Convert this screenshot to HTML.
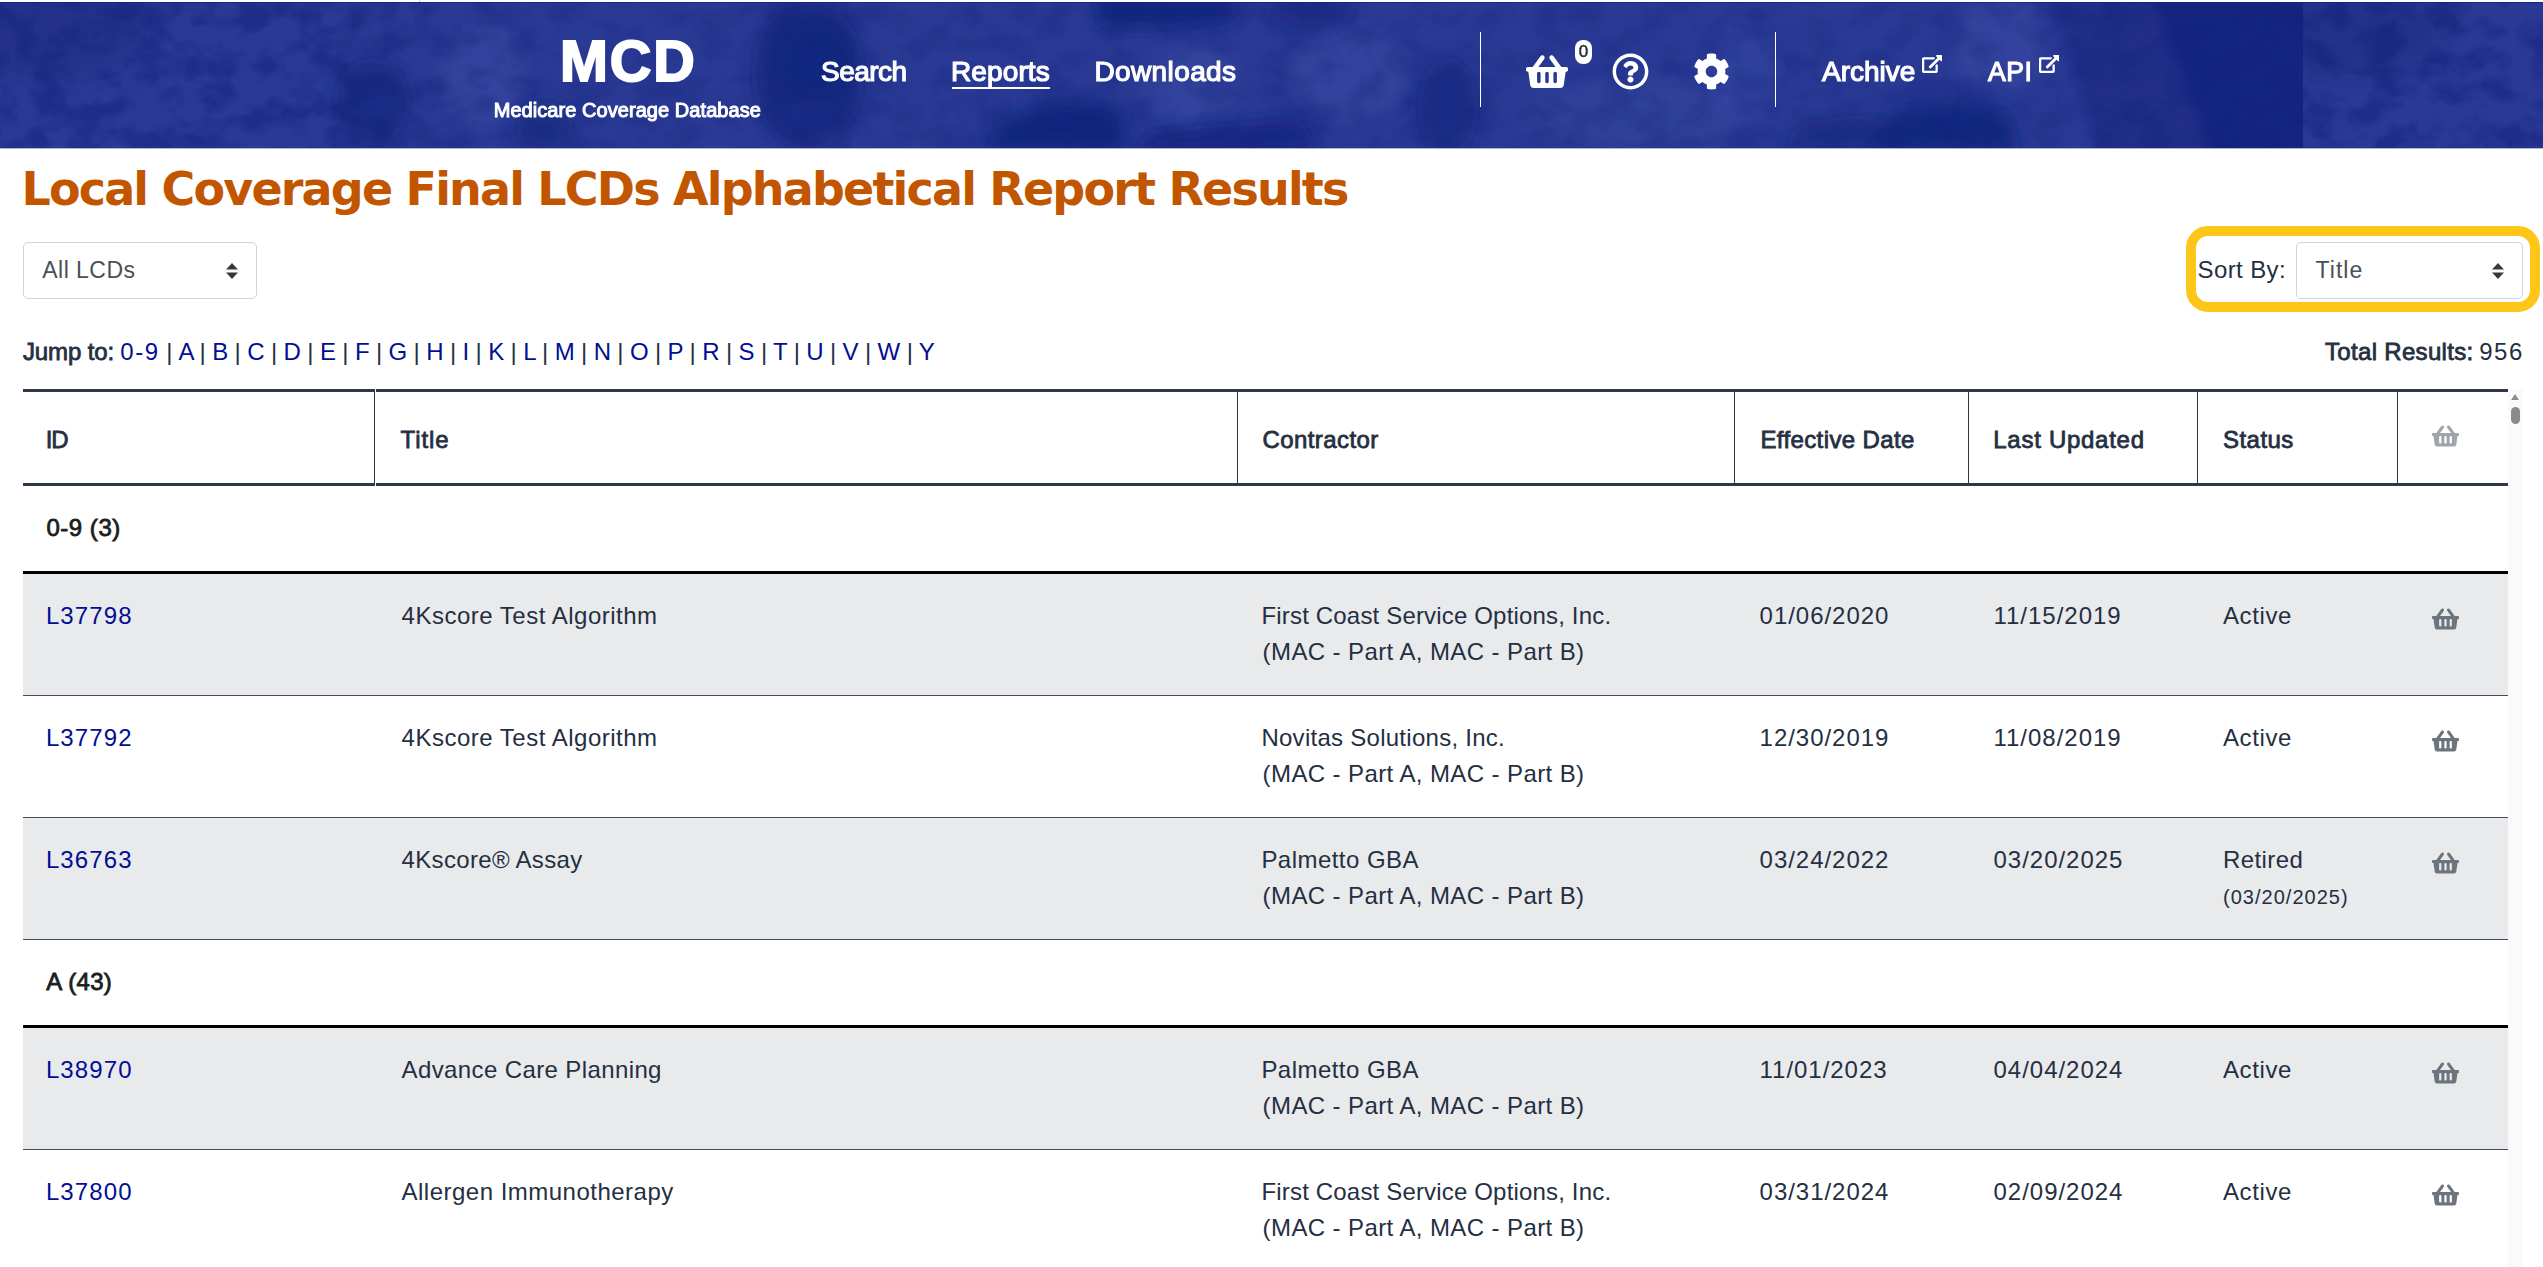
<!DOCTYPE html>
<html lang="en">
<head>
<meta charset="utf-8">
<title>Local Coverage Final LCDs Alphabetical Report Results</title>
<style>
*{box-sizing:border-box;}
html,body{margin:0;padding:0;background:#fff;}
body{width:2543px;height:1267px;overflow:hidden;position:relative;font-family:"Liberation Sans",sans-serif;font-size:24px;line-height:36px;color:#252f42;}
a{color:#020e94;text-decoration:none;}
.abs{position:absolute;white-space:nowrap;line-height:1;}
/* ---------- header ---------- */
header{position:absolute;left:0;top:2px;width:2543px;height:146px;overflow:hidden;background-color:#28388f;}
header .bg{position:absolute;left:0;top:0;width:2543px;height:146px;}
header .w{color:#fff;font-weight:bold;}
#logo{left:558px;top:30.6px;font-size:57.5px;font-weight:bold;color:#fff;-webkit-text-stroke:2px #fff;}
#sub{left:493.5px;top:98.4px;font-size:20px;font-weight:normal;-webkit-text-stroke:1px #fff;color:#fff;}
.nav{font-size:28px;font-weight:normal;-webkit-text-stroke:1.2px #fff;color:#fff;top:56px;}
#n1{left:821px;}
#n2{left:951.5px;}
#n3{left:1095px;}
#n4{left:1821px;}
#n5{left:1987px;transform:scaleX(.95);transform-origin:0 50%;}
#uline{position:absolute;left:952px;top:84.5px;width:98px;height:2.5px;background:#fff;}
.vsep{position:absolute;top:30px;width:1px;height:75px;background:#fff;}
.ico{position:absolute;display:block;}
#badge{position:absolute;left:1575px;top:38px;width:17px;height:24px;border-radius:8px;background:#fff;color:#252f42;font-size:17px;font-weight:normal;-webkit-text-stroke:.5px;line-height:23px;text-align:center;}
/* ---------- controls ---------- */
h1{position:absolute;margin:0;left:22px;top:166.2px;font-family:"DejaVu Sans","Liberation Sans",sans-serif;font-size:46px;line-height:1;font-weight:bold;color:#c25600;white-space:nowrap;}
.sel{position:absolute;height:57px;border:1px solid #ced4da;border-radius:5px;background:#fff;color:#495057;font-size:23px;line-height:55px;padding-left:18px;white-space:nowrap;}
.sel svg{position:absolute;right:18px;top:20px;}
#sel1{left:23px;top:242px;width:234px;}
#hl{position:absolute;left:2186px;top:226px;width:354px;height:86px;border:10px solid #ffc61a;border-radius:22px;}
#sortlbl{left:2197px;top:258px;font-size:24px;color:#252f42;}
#sel2{left:2296px;top:242px;width:227px;}
#jump{left:22px;top:339.5px;font-size:24px;}
#jump b,#total b{font-weight:normal;-webkit-text-stroke:.8px;}
#total{left:2318px;top:340px;font-size:24px;}
/* ---------- table ---------- */
#tbl{position:absolute;left:23px;top:389px;width:2485px;border-collapse:separate;border-spacing:0;table-layout:fixed;}
#tbl th{height:97px;border-top:3px solid #2e3849;border-bottom:3px solid #2e3849;border-left:1px solid #2e3849;text-align:left;font-weight:normal;-webkit-text-stroke:.8px;padding:4px 0 0 24px;vertical-align:middle;white-space:nowrap;}
#tbl th:first-child{border-left:0;padding-left:23px;}
#tbl td{height:122px;padding:24px 0 0 24px;vertical-align:top;border-bottom:1px solid #444c5b;white-space:nowrap;}
#tbl td:first-child{padding-left:24px;}
#tbl tr.g td{height:88px;border-bottom:3px solid #000;padding:0 0 2px 23px;vertical-align:middle;font-weight:normal;-webkit-text-stroke:.8px;color:#1a1d21;}
#tbl tr.odd td{background:#e9eaec;}
#tbl td.bk{padding:33px 0 0 35px;line-height:0;}
#tbl th.bk{padding:0 0 3px 34px;line-height:0;}
small{font-size:20px;}
/* ---------- scrollbar ---------- */
#sb{position:absolute;left:2508px;top:389px;width:15px;height:878px;background:#fafafa;}
#sb i{position:absolute;left:3px;top:18px;width:9px;height:17px;border-radius:5px;background:#8b8b8b;}
#sb b{position:absolute;left:3px;top:5px;width:0;height:0;border-left:4.5px solid transparent;border-right:4.5px solid transparent;border-bottom:6.5px solid #8b8b8b;}
/*TUNE-BEGIN*/
#logo{letter-spacing:1.90px;margin-left:2.0px;}
#sub{letter-spacing:0.06px;margin-left:0.2px;}
#n1{letter-spacing:-0.52px;margin-left:0.0px;}
#n2{letter-spacing:0.12px;margin-left:-0.5px;}
#n3{letter-spacing:0.39px;margin-left:-0.6px;}
#n4{letter-spacing:0.00px;margin-left:1.0px;}
#n5{letter-spacing:0.50px;margin-left:1.0px;}
#h1{letter-spacing:-1.82px;margin-left:-0.6px;}
#s1t{letter-spacing:0.46px;margin-left:0.3px;}
#sortlbl{letter-spacing:0.38px;margin-left:0.6px;}
#s2t{letter-spacing:1.05px;margin-left:0.5px;}
#jb{letter-spacing:-0.14px;margin-left:1.0px;}
#j0{letter-spacing:1.50px;margin-left:-0.3px;}
#jl{word-spacing:-0.30px;margin-left:-0.5px;}
#tb{letter-spacing:0.32px;margin-left:7.0px;}
#tn{letter-spacing:1.50px;margin-left:-1.0px;}
#hA{letter-spacing:-1.00px;margin-left:-0.3px;}
#hB{letter-spacing:0.88px;margin-left:1.6px;}
#hC{letter-spacing:0.43px;margin-left:0.4px;}
#hD{letter-spacing:0.39px;margin-left:1.4px;}
#hE{letter-spacing:0.72px;margin-left:0.3px;}
#hF{letter-spacing:0.46px;margin-left:1.0px;}
#g1{letter-spacing:0.53px;margin-left:0.4px;}
#g2{letter-spacing:0.32px;margin-left:0.2px;}
#r1a{letter-spacing:1.12px;margin-left:-1.1px;}
#r1d{letter-spacing:0.40px;margin-left:1.6px;}
#r1e{letter-spacing:0.96px;margin-left:1.6px;}
#r1f{letter-spacing:0.98px;margin-left:1.5px;}
#r1g{letter-spacing:0.60px;margin-left:2.0px;}
#r2a{letter-spacing:1.12px;margin-left:-1.1px;}
#r2d{letter-spacing:0.40px;margin-left:1.6px;}
#r2e{letter-spacing:0.96px;margin-left:1.6px;}
#r2f{letter-spacing:0.98px;margin-left:1.5px;}
#r2g{letter-spacing:0.60px;margin-left:2.0px;}
#r3a{letter-spacing:1.12px;margin-left:-1.1px;}
#r3d{letter-spacing:0.40px;margin-left:1.6px;}
#r3e{letter-spacing:0.96px;margin-left:1.6px;}
#r3f{letter-spacing:0.98px;margin-left:1.5px;}
#r3g{letter-spacing:0.40px;margin-left:2.0px;}
#r4a{letter-spacing:1.12px;margin-left:-1.1px;}
#r4d{letter-spacing:0.40px;margin-left:1.6px;}
#r4e{letter-spacing:0.96px;margin-left:1.6px;}
#r4f{letter-spacing:0.98px;margin-left:1.5px;}
#r4g{letter-spacing:0.60px;margin-left:2.0px;}
#r5a{letter-spacing:1.12px;margin-left:-1.1px;}
#r5d{letter-spacing:0.40px;margin-left:1.6px;}
#r5e{letter-spacing:0.96px;margin-left:1.6px;}
#r5f{letter-spacing:0.98px;margin-left:1.5px;}
#r5g{letter-spacing:0.60px;margin-left:2.0px;}
#r1b{letter-spacing:0.50px;margin-left:3.6px;}
#r2b{letter-spacing:0.50px;margin-left:3.6px;}
#r3b{letter-spacing:0.32px;margin-left:3.6px;}
#r4b{letter-spacing:0.39px;margin-left:3.5px;}
#r5b{letter-spacing:0.49px;margin-left:3.5px;}
#r1c{letter-spacing:0.17px;margin-left:0.5px;}
#r2c{letter-spacing:0.27px;margin-left:0.4px;}
#r3c{letter-spacing:0.46px;margin-left:0.4px;}
#r4c{letter-spacing:0.46px;margin-left:0.4px;}
#r5c{letter-spacing:0.17px;margin-left:0.5px;}
#r3h{letter-spacing:1.02px;margin-left:2.0px;}
/*TUNE-END*/
</style>
</head>
<body>
<div style="position:absolute;left:419px;top:0;width:1px;height:2px;background:#d0d0d0"></div>
<div style="position:absolute;left:0;top:148px;width:2543px;height:1px;background:rgba(42,58,148,.38)"></div>
<header>
  <svg class="bg" width="2543" height="146" viewBox="0 0 2543 146" preserveAspectRatio="none">
<defs>
<filter id="bl" x="-20%" y="-50%" width="140%" height="200%"><feGaussianBlur stdDeviation="8"/></filter>
<filter id="bl2" x="-20%" y="-50%" width="140%" height="200%"><feGaussianBlur stdDeviation="4"/></filter>
<filter id="nz" x="0" y="0" width="100%" height="100%" color-interpolation-filters="sRGB"><feTurbulence type="fractalNoise" baseFrequency="0.03 0.04" numOctaves="3" seed="7" result="n"/><feColorMatrix in="n" type="matrix" values="0 0 0 0 0.07  0 0 0 0 0.13  0 0 0 0 0.48  0 0 0 -3.2 1.9"/></filter>
<linearGradient id="mg" x1="0" x2="2543" y1="0" y2="0" gradientUnits="userSpaceOnUse"><stop offset="0" stop-color="#fff"/><stop offset=".13" stop-color="#fff"/><stop offset=".2" stop-color="#777"/><stop offset=".8" stop-color="#777"/><stop offset=".9" stop-color="#999"/><stop offset=".9056" stop-color="#fff"/><stop offset="1" stop-color="#fff"/></linearGradient>
<mask id="mk" maskUnits="userSpaceOnUse" x="0" y="0" width="2543" height="146"><rect width="2543" height="146" fill="url(#mg)"/></mask>
<clipPath id="cl"><rect x="0" y="0" width="2303" height="146"/></clipPath>
<clipPath id="cr"><rect x="2303" y="0" width="240" height="146"/></clipPath>
</defs>
<rect width="2543" height="146" fill="#2a3a94"/>
<g clip-path="url(#cl)">
<g filter="url(#bl)" fill="#13237c">
<ellipse cx="50" cy="28" rx="95" ry="48" opacity=".4"/>
<ellipse cx="372" cy="100" rx="38" ry="44" opacity=".65"/>
<ellipse cx="545" cy="125" rx="28" ry="26" opacity=".6"/>
<ellipse cx="808" cy="72" rx="56" ry="76" opacity=".7"/>
<ellipse cx="816" cy="58" rx="40" ry="36" opacity=".5"/>
<polygon points="985,150 1000,118 1060,98 1120,104 1128,150" opacity=".9"/>
<polygon points="1092,-6 1238,-6 1232,18 1170,26 1100,24" opacity=".9"/>
<polygon points="1130,150 1150,128 1300,116 1320,150" opacity=".75"/>
<ellipse cx="1310" cy="6" rx="40" ry="22" opacity=".55"/>
<ellipse cx="1448" cy="105" rx="30" ry="50" opacity=".65"/>
<polygon points="1780,150 1800,120 1870,112 1900,150" opacity=".6"/>
<polygon points="1872,150 1890,108 1960,96 2010,110 2020,150" opacity=".85"/>
</g>
<g filter="url(#bl)" fill="#4456b0">
<ellipse cx="482" cy="72" rx="40" ry="52" opacity=".3"/>
<ellipse cx="1192" cy="82" rx="46" ry="42" opacity=".32"/>
<ellipse cx="1350" cy="72" rx="58" ry="44" opacity=".3"/>
<ellipse cx="1640" cy="112" rx="120" ry="34" opacity=".2"/>
<ellipse cx="1740" cy="70" rx="34" ry="44" opacity=".22"/>
<ellipse cx="2000" cy="45" rx="46" ry="50" opacity=".3"/>
</g>
<g filter="url(#bl2)" fill="#13237c">
<polygon points="2050,-10 2320,-10 2320,160 2100,160" opacity=".5"/>
<polygon points="2150,-10 2320,-10 2320,160 2215,160" opacity=".6"/>
</g>
</g>
<g clip-path="url(#cr)">
<g filter="url(#bl)" fill="#13237c"><ellipse cx="2353" cy="28" rx="95" ry="48" opacity=".4"/></g>
</g>
<g mask="url(#mk)"><rect x="0" y="0" width="2543" height="146" filter="url(#nz)" opacity=".5"/></g>
<rect x="0" y="0" width="2543" height="1" fill="#14247d" opacity=".8"/>
</svg>
  <div id="logo" class="abs t">MCD</div>
  <div id="sub" class="abs t">Medicare Coverage Database</div>
  <nav>
    <a id="n1" class="abs nav t">Search</a>
    <a id="n2" class="abs nav t">Reports</a>
    <div id="uline"></div>
    <a id="n3" class="abs nav t">Downloads</a>
    <div class="vsep" style="left:1480px"></div>
    <svg class="ico" style="left:1526px;top:51px" width="42" height="37.33" viewBox="0 0 576 512"><path fill="#fff" d="M576 216v16c0 13.255-10.745 24-24 24h-8l-26.113 182.788C514.509 462.435 494.257 480 470.37 480H105.63c-23.887 0-44.139-17.565-47.518-41.212L32 256h-8c-13.255 0-24-10.745-24-24v-16c0-13.255 10.745-24 24-24h67.341l106.78-146.821c10.395-14.292 30.407-17.453 44.701-7.058 14.293 10.395 17.453 30.408 7.058 44.701L170.477 192h235.046L326.12 82.821c-10.395-14.292-7.234-34.306 7.059-44.701 14.291-10.395 34.306-7.235 44.701 7.058L484.659 192H552c13.255 0 24 10.745 24 24zM312 392V280c0-13.255-10.745-24-24-24s-24 10.745-24 24v112c0 13.255 10.745 24 24 24s24-10.745 24-24zm112 0V280c0-13.255-10.745-24-24-24s-24 10.745-24 24v112c0 13.255 10.745 24 24 24s24-10.745 24-24zm-224 0V280c0-13.255-10.745-24-24-24s-24 10.745-24 24v112c0 13.255 10.745 24 24 24s24-10.745 24-24z"/></svg>
    <div id="badge">0</div>
    <svg class="ico" style="left:1612px;top:51px" width="37" height="37" viewBox="0 0 512 512"><path fill="#fff" d="M256 8C119.043 8 8 119.083 8 256c0 136.997 111.043 248 248 248s248-111.003 248-248C504 119.083 392.957 8 256 8zm0 448c-110.532 0-200-89.431-200-200 0-110.495 89.472-200 200-200 110.491 0 200 89.471 200 200 0 110.530-89.431 200-200 200zm107.244-255.200c0 67.052-72.421 68.084-72.421 92.863V300c0 6.627-5.373 12-12 12h-45.647c-6.627 0-12-5.373-12-12v-8.659c0-35.745 27.100-50.034 47.579-61.516 17.561-9.845 28.324-16.541 28.324-29.579 0-17.246-21.999-28.693-39.784-28.693-23.189 0-33.894 10.977-48.942 29.969-4.057 5.120-11.460 6.071-16.666 2.124l-27.824-21.098c-5.107-3.872-6.251-11.066-2.644-16.363C184.846 131.491 214.940 112 261.794 112c49.071 0 101.450 38.304 101.450 88.800zM298 368c0 23.159-18.841 42-42 42s-42-18.841-42-42 18.841-42 42-42 42 18.841 42 42z"/></svg>
    <svg class="ico" style="left:1693px;top:51px" width="37" height="37" viewBox="0 0 512 512"><path fill="#fff" d="M487.4 315.7l-42.6-24.6c4.3-23.2 4.3-47 0-70.200l42.600-24.600c4.900-2.800 7.100-8.600 5.500-14-11.100-35.600-30-67.800-54.700-94.600-3.800-4.100-10-5.100-14.800-2.300L380.800 110c-17.900-15.400-38.500-27.300-60.800-35.100V25.800c0-5.600-3.900-10.500-9.400-11.700-36.700-8.200-74.300-7.800-109.200 0-5.500 1.200-9.400 6.100-9.400 11.700V75c-22.200 7.900-42.800 19.800-60.800 35.100L88.700 85.500c-4.900-2.800-11-1.900-14.800 2.300-24.700 26.700-43.600 58.900-54.700 94.600-1.700 5.400.6 11.200 5.500 14L67.300 221c-4.300 23.200-4.300 47 0 70.200l-42.600 24.600c-4.900 2.800-7.100 8.600-5.500 14 11.100 35.600 30 67.800 54.700 94.600 3.800 4.100 10 5.100 14.800 2.300l42.600-24.600c17.900 15.400 38.500 27.300 60.800 35.100v49.200c0 5.600 3.900 10.500 9.400 11.700 36.700 8.200 74.300 7.800 109.200 0 5.500-1.200 9.400-6.100 9.400-11.700v-49.200c22.200-7.900 42.800-19.800 60.800-35.100l42.600 24.600c4.900 2.800 11 1.900 14.800-2.300 24.700-26.700 43.600-58.900 54.700-94.600 1.500-5.500-.7-11.300-5.600-14.100zM256 336c-44.100 0-80-35.900-80-80s35.900-80 80-80 80 35.900 80 80-35.900 80-80 80z"/></svg>
    <div class="vsep" style="left:1775px"></div>
    <a id="n4" class="abs nav t">Archive</a>
    <svg class="ico" style="left:1922px;top:52.5px" width="20.25" height="18" viewBox="0 0 576 512"><path fill="#fff" d="M576 24v127.984c0 21.461-25.960 31.980-40.971 16.971l-35.707-35.709-243.523 243.523c-9.373 9.373-24.568 9.373-33.941 0l-22.627-22.627c-9.373-9.373-9.373-24.569 0-33.941L442.756 76.676l-35.703-35.705C391.982 25.900 402.656 0 424.024 0H552c13.255 0 24 10.745 24 24zM407.029 270.794l-16 16A23.999 23.999 0 0 0 384 303.765V448H64V128h264a24.003 24.003 0 0 0 16.970-7.029l16-16C376.089 89.851 365.381 64 344 64H48C21.490 64 0 85.490 0 112v352c0 26.510 21.490 48 48 48h352c26.510 0 48-21.490 48-48V287.764c0-21.382-25.852-32.090-40.971-16.970z"/></svg>
    <a id="n5" class="abs nav t">API</a>
    <svg class="ico" style="left:2039px;top:52.5px" width="20.25" height="18" viewBox="0 0 576 512"><path fill="#fff" d="M576 24v127.984c0 21.461-25.960 31.980-40.971 16.971l-35.707-35.709-243.523 243.523c-9.373 9.373-24.568 9.373-33.941 0l-22.627-22.627c-9.373-9.373-9.373-24.569 0-33.941L442.756 76.676l-35.703-35.705C391.982 25.900 402.656 0 424.024 0H552c13.255 0 24 10.745 24 24zM407.029 270.794l-16 16A23.999 23.999 0 0 0 384 303.765V448H64V128h264a24.003 24.003 0 0 0 16.970-7.029l16-16C376.089 89.851 365.381 64 344 64H48C21.490 64 0 85.490 0 112v352c0 26.510 21.490 48 48 48h352c26.510 0 48-21.490 48-48V287.764c0-21.382-25.852-32.090-40.971-16.970z"/></svg>
  </nav>
</header>

<main>
<h1 id="h1" class="t">Local Coverage Final LCDs Alphabetical Report Results</h1>

<div id="sel1" class="sel"><span id="s1t" class="t">All LCDs</span><svg width="12" height="16" viewBox="0 0 12 16"><path fill="#343a40" d="M6 0l6 6.5H0zM6 16l-6-6.500h12z"/></svg></div>

<div id="hl"></div>
<div id="sortlbl" class="abs t">Sort By:</div>
<div id="sel2" class="sel"><span id="s2t" class="t">Title</span><svg width="12" height="16" viewBox="0 0 12 16"><path fill="#343a40" d="M6 0l6 6.5H0zM6 16l-6-6.500h12z"/></svg></div>

<div id="jump" class="abs"><b id="jb" class="t">Jump to:</b> <a id="j0" class="t">0-9</a> | <span id="jl" class="t"><a>A</a> | <a>B</a> | <a>C</a> | <a>D</a> | <a>E</a> | <a>F</a> | <a>G</a> | <a>H</a> | <a>I</a> | <a>K</a> | <a>L</a> | <a>M</a> | <a>N</a> | <a>O</a> | <a>P</a> | <a>R</a> | <a>S</a> | <a>T</a> | <a>U</a> | <a>V</a> | <a>W</a> | <a>Y</a></span></div>
<div id="total" class="abs"><b id="tb" class="t">Total Results:</b> <span id="tn" class="t">956</span></div>

<table id="tbl">
<colgroup><col style="width:351px"><col style="width:863px"><col style="width:497px"><col style="width:234px"><col style="width:229px"><col style="width:200px"><col style="width:111px"></colgroup>
<thead>
<tr><th><span id="hA" class="t">ID</span></th><th><span id="hB" class="t">Title</span></th><th><span id="hC" class="t">Contractor</span></th><th><span id="hD" class="t">Effective Date</span></th><th><span id="hE" class="t">Last Updated</span></th><th><span id="hF" class="t">Status</span></th><th class="bk"><svg width="27" height="24" viewBox="0 0 576 512"><path fill="#9fa5ab" d="M576 216v16c0 13.255-10.745 24-24 24h-8l-26.113 182.788C514.509 462.435 494.257 480 470.37 480H105.63c-23.887 0-44.139-17.565-47.518-41.212L32 256h-8c-13.255 0-24-10.745-24-24v-16c0-13.255 10.745-24 24-24h67.341l106.78-146.821c10.395-14.292 30.407-17.453 44.701-7.058 14.293 10.395 17.453 30.408 7.058 44.701L170.477 192h235.046L326.12 82.821c-10.395-14.292-7.234-34.306 7.059-44.701 14.291-10.395 34.306-7.235 44.701 7.058L484.659 192H552c13.255 0 24 10.745 24 24zM312 392V280c0-13.255-10.745-24-24-24s-24 10.745-24 24v112c0 13.255 10.745 24 24 24s24-10.745 24-24zm112 0V280c0-13.255-10.745-24-24-24s-24 10.745-24 24v112c0 13.255 10.745 24 24 24s24-10.745 24-24zm-224 0V280c0-13.255-10.745-24-24-24s-24 10.745-24 24v112c0 13.255 10.745 24 24 24s24-10.745 24-24z"/></svg></th></tr>
</thead>
<tbody>
<tr class="g"><td colspan="7"><span id="g1" class="t">0-9 (3)</span></td></tr>
<tr class="odd"><td><a id="r1a" class="t">L37798</a></td><td><span id="r1b" class="t">4Kscore Test Algorithm</span></td><td><span id="r1c" class="t">First Coast Service Options, Inc.</span><br><span id="r1d" class="t">(MAC - Part A, MAC - Part B)</span></td><td><span id="r1e" class="t">01/06/2020</span></td><td><span id="r1f" class="t">11/15/2019</span></td><td><span id="r1g" class="t">Active</span></td><td class="bk"><svg width="27" height="24" viewBox="0 0 576 512"><path fill="#6c757d" d="M576 216v16c0 13.255-10.745 24-24 24h-8l-26.113 182.788C514.509 462.435 494.257 480 470.37 480H105.63c-23.887 0-44.139-17.565-47.518-41.212L32 256h-8c-13.255 0-24-10.745-24-24v-16c0-13.255 10.745-24 24-24h67.341l106.78-146.821c10.395-14.292 30.407-17.453 44.701-7.058 14.293 10.395 17.453 30.408 7.058 44.701L170.477 192h235.046L326.12 82.821c-10.395-14.292-7.234-34.306 7.059-44.701 14.291-10.395 34.306-7.235 44.701 7.058L484.659 192H552c13.255 0 24 10.745 24 24zM312 392V280c0-13.255-10.745-24-24-24s-24 10.745-24 24v112c0 13.255 10.745 24 24 24s24-10.745 24-24zm112 0V280c0-13.255-10.745-24-24-24s-24 10.745-24 24v112c0 13.255 10.745 24 24 24s24-10.745 24-24zm-224 0V280c0-13.255-10.745-24-24-24s-24 10.745-24 24v112c0 13.255 10.745 24 24 24s24-10.745 24-24z"/></svg></td></tr>
<tr><td><a id="r2a" class="t">L37792</a></td><td><span id="r2b" class="t">4Kscore Test Algorithm</span></td><td><span id="r2c" class="t">Novitas Solutions, Inc.</span><br><span id="r2d" class="t">(MAC - Part A, MAC - Part B)</span></td><td><span id="r2e" class="t">12/30/2019</span></td><td><span id="r2f" class="t">11/08/2019</span></td><td><span id="r2g" class="t">Active</span></td><td class="bk"><svg width="27" height="24" viewBox="0 0 576 512"><path fill="#6c757d" d="M576 216v16c0 13.255-10.745 24-24 24h-8l-26.113 182.788C514.509 462.435 494.257 480 470.37 480H105.63c-23.887 0-44.139-17.565-47.518-41.212L32 256h-8c-13.255 0-24-10.745-24-24v-16c0-13.255 10.745-24 24-24h67.341l106.78-146.821c10.395-14.292 30.407-17.453 44.701-7.058 14.293 10.395 17.453 30.408 7.058 44.701L170.477 192h235.046L326.12 82.821c-10.395-14.292-7.234-34.306 7.059-44.701 14.291-10.395 34.306-7.235 44.701 7.058L484.659 192H552c13.255 0 24 10.745 24 24zM312 392V280c0-13.255-10.745-24-24-24s-24 10.745-24 24v112c0 13.255 10.745 24 24 24s24-10.745 24-24zm112 0V280c0-13.255-10.745-24-24-24s-24 10.745-24 24v112c0 13.255 10.745 24 24 24s24-10.745 24-24zm-224 0V280c0-13.255-10.745-24-24-24s-24 10.745-24 24v112c0 13.255 10.745 24 24 24s24-10.745 24-24z"/></svg></td></tr>
<tr class="odd"><td><a id="r3a" class="t">L36763</a></td><td><span id="r3b" class="t">4Kscore® Assay</span></td><td><span id="r3c" class="t">Palmetto GBA</span><br><span id="r3d" class="t">(MAC - Part A, MAC - Part B)</span></td><td><span id="r3e" class="t">03/24/2022</span></td><td><span id="r3f" class="t">03/20/2025</span></td><td><span id="r3g" class="t">Retired</span><br><small id="r3h" class="t">(03/20/2025)</small></td><td class="bk"><svg width="27" height="24" viewBox="0 0 576 512"><path fill="#6c757d" d="M576 216v16c0 13.255-10.745 24-24 24h-8l-26.113 182.788C514.509 462.435 494.257 480 470.37 480H105.63c-23.887 0-44.139-17.565-47.518-41.212L32 256h-8c-13.255 0-24-10.745-24-24v-16c0-13.255 10.745-24 24-24h67.341l106.78-146.821c10.395-14.292 30.407-17.453 44.701-7.058 14.293 10.395 17.453 30.408 7.058 44.701L170.477 192h235.046L326.12 82.821c-10.395-14.292-7.234-34.306 7.059-44.701 14.291-10.395 34.306-7.235 44.701 7.058L484.659 192H552c13.255 0 24 10.745 24 24zM312 392V280c0-13.255-10.745-24-24-24s-24 10.745-24 24v112c0 13.255 10.745 24 24 24s24-10.745 24-24zm112 0V280c0-13.255-10.745-24-24-24s-24 10.745-24 24v112c0 13.255 10.745 24 24 24s24-10.745 24-24zm-224 0V280c0-13.255-10.745-24-24-24s-24 10.745-24 24v112c0 13.255 10.745 24 24 24s24-10.745 24-24z"/></svg></td></tr>
<tr class="g"><td colspan="7"><span id="g2" class="t">A (43)</span></td></tr>
<tr class="odd"><td><a id="r4a" class="t">L38970</a></td><td><span id="r4b" class="t">Advance Care Planning</span></td><td><span id="r4c" class="t">Palmetto GBA</span><br><span id="r4d" class="t">(MAC - Part A, MAC - Part B)</span></td><td><span id="r4e" class="t">11/01/2023</span></td><td><span id="r4f" class="t">04/04/2024</span></td><td><span id="r4g" class="t">Active</span></td><td class="bk"><svg width="27" height="24" viewBox="0 0 576 512"><path fill="#6c757d" d="M576 216v16c0 13.255-10.745 24-24 24h-8l-26.113 182.788C514.509 462.435 494.257 480 470.37 480H105.63c-23.887 0-44.139-17.565-47.518-41.212L32 256h-8c-13.255 0-24-10.745-24-24v-16c0-13.255 10.745-24 24-24h67.341l106.78-146.821c10.395-14.292 30.407-17.453 44.701-7.058 14.293 10.395 17.453 30.408 7.058 44.701L170.477 192h235.046L326.12 82.821c-10.395-14.292-7.234-34.306 7.059-44.701 14.291-10.395 34.306-7.235 44.701 7.058L484.659 192H552c13.255 0 24 10.745 24 24zM312 392V280c0-13.255-10.745-24-24-24s-24 10.745-24 24v112c0 13.255 10.745 24 24 24s24-10.745 24-24zm112 0V280c0-13.255-10.745-24-24-24s-24 10.745-24 24v112c0 13.255 10.745 24 24 24s24-10.745 24-24zm-224 0V280c0-13.255-10.745-24-24-24s-24 10.745-24 24v112c0 13.255 10.745 24 24 24s24-10.745 24-24z"/></svg></td></tr>
<tr><td><a id="r5a" class="t">L37800</a></td><td><span id="r5b" class="t">Allergen Immunotherapy</span></td><td><span id="r5c" class="t">First Coast Service Options, Inc.</span><br><span id="r5d" class="t">(MAC - Part A, MAC - Part B)</span></td><td><span id="r5e" class="t">03/31/2024</span></td><td><span id="r5f" class="t">02/09/2024</span></td><td><span id="r5g" class="t">Active</span></td><td class="bk"><svg width="27" height="24" viewBox="0 0 576 512"><path fill="#6c757d" d="M576 216v16c0 13.255-10.745 24-24 24h-8l-26.113 182.788C514.509 462.435 494.257 480 470.37 480H105.63c-23.887 0-44.139-17.565-47.518-41.212L32 256h-8c-13.255 0-24-10.745-24-24v-16c0-13.255 10.745-24 24-24h67.341l106.78-146.821c10.395-14.292 30.407-17.453 44.701-7.058 14.293 10.395 17.453 30.408 7.058 44.701L170.477 192h235.046L326.12 82.821c-10.395-14.292-7.234-34.306 7.059-44.701 14.291-10.395 34.306-7.235 44.701 7.058L484.659 192H552c13.255 0 24 10.745 24 24zM312 392V280c0-13.255-10.745-24-24-24s-24 10.745-24 24v112c0 13.255 10.745 24 24 24s24-10.745 24-24zm112 0V280c0-13.255-10.745-24-24-24s-24 10.745-24 24v112c0 13.255 10.745 24 24 24s24-10.745 24-24zm-224 0V280c0-13.255-10.745-24-24-24s-24 10.745-24 24v112c0 13.255 10.745 24 24 24s24-10.745 24-24z"/></svg></td></tr>
</tbody>
</table>
<div style="position:absolute;left:375px;top:389px;width:1px;height:3px;background:#fff"></div><div style="position:absolute;left:375px;top:483px;width:1px;height:3px;background:#fff"></div>
<div id="sb"><b></b><i></i></div>
</main>

</body>
</html>
